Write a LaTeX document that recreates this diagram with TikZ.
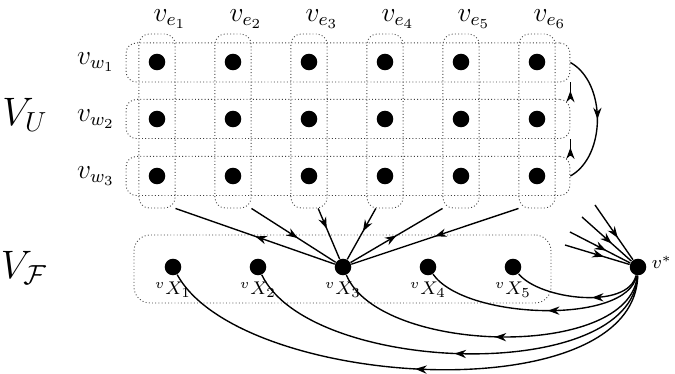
\documentclass[tikz,border=0pt]{standalone}
\usepackage{amsmath, amssymb}
\usetikzlibrary{positioning,arrows.meta,decorations.markings}

\begin{document}
\begin{tikzpicture}[x=0.435pt, y=-0.435pt,
    dot/.style={circle, fill=black, inner sep=0pt, minimum size=7.2pt},
    colbox/.style={draw=black!75, densely dotted, rounded corners=4.5pt, inner sep=0pt, minimum width=15.7pt, minimum height=75.7pt},
    rowbox/.style={draw=black!75, densely dotted, rounded corners=4.5pt, inner sep=0pt, minimum width=193.1pt, minimum height=17pt},
    fambox/.style={draw=black!75, densely dotted, rounded corners=7pt, inner sep=0pt, minimum width=181.4pt, minimum height=29.6pt},
    toplbl/.style={font=\large, inner sep=1pt},
    xlbl/.style={font=\footnotesize, inner sep=1pt},
    midarrow/.style={postaction={decorate}, decoration={markings, mark=at position #1 with {\arrow{Stealth[length=5pt,width=3.6pt]}}}},
    midarrow/.default=0.5,
    arc/.style={semithick, midarrow=#1},
    arc/.default=0.5]
        \useasboundingbox (0,0) rectangle (675,374);
        % the columns and rows of V_U
        \node[colbox] (e1) at (157,121) {};
        \node[colbox] (e2) at (233,121) {};
        \node[colbox] (e3) at (309,121) {};
        \node[colbox] (e4) at (385,121) {};
        \node[colbox] (e5) at (461,121) {};
        \node[colbox] (e6) at (537,121) {};
        \node[rowbox] (w1) at (348,62.5) {};
        \node[rowbox] (w2) at (348,119) {};
        \node[rowbox] (w3) at (348,176) {};
        \node[toplbl] (le1) at (170,19) {$v_{e_1}$};
        \node[toplbl] (le2) at (246,19) {$v_{e_2}$};
        \node[toplbl] (le3) at (322,19) {$v_{e_3}$};
        \node[toplbl] (le4) at (398,19) {$v_{e_4}$};
        \node[toplbl] (le5) at (474,19) {$v_{e_5}$};
        \node[toplbl] (le6) at (550,19) {$v_{e_6}$};
        \node[toplbl] (lw1) at (96,62) {$v_{w_1}$};
        \node[toplbl] (lw2) at (96,119) {$v_{w_2}$};
        \node[toplbl] (lw3) at (96,176) {$v_{w_3}$};
        \node (vu) at (25,115) {\LARGE $V_U$};
        \node (vf) at (24,268) {\LARGE $V_{\mathcal{F}}$};
        \node[dot] (u11) at (157,62) {};
        \node[dot] (u12) at (233,62) {};
        \node[dot] (u13) at (309,62) {};
        \node[dot] (u14) at (385,62) {};
        \node[dot] (u15) at (461,62) {};
        \node[dot] (u16) at (537,62) {};
        \node[dot] (u21) at (157,119) {};
        \node[dot] (u22) at (233,119) {};
        \node[dot] (u23) at (309,119) {};
        \node[dot] (u24) at (385,119) {};
        \node[dot] (u25) at (461,119) {};
        \node[dot] (u26) at (537,119) {};
        \node[dot] (u31) at (157,176) {};
        \node[dot] (u32) at (233,176) {};
        \node[dot] (u33) at (309,176) {};
        \node[dot] (u34) at (385,176) {};
        \node[dot] (u35) at (461,176) {};
        \node[dot] (u36) at (537,176) {};
        \draw[arc] (w1.east) .. controls +(36,20) and +(36,-20) .. (w3.east);
        \draw[arc] (w3.north east) -- (w2.south east);
        \draw[arc] (w2.north east) -- (w1.south east);
        % the family nodes
        \node[fambox] (fam) at (342.5,269) {};
        \node[dot] (x1) at (173,267) {};
        \node[dot] (x2) at (258,267) {};
        \node[dot] (x3) at (343,267) {};
        \node[dot] (x4) at (428,267) {};
        \node[dot] (x5) at (513,267) {};
        \node[dot] (vs) at (638,267) {};
        \node[xlbl, below=1.5pt of x1] (lx1) {${}^{v}X_{1}$};
        \node[xlbl, below=1.5pt of x2] (lx2) {${}^{v}X_{2}$};
        \node[xlbl, below=1.5pt of x3] (lx3) {${}^{v}X_{3}$};
        \node[xlbl, below=1.5pt of x4] (lx4) {${}^{v}X_{4}$};
        \node[xlbl, below=1.5pt of x5] (lx5) {${}^{v}X_{5}$};
        \node[xlbl, right=1pt of vs, yshift=2pt] (lvs) {$v^{*}$};
        \draw[arc] (x3) -- (e1.south east);
        \draw[arc=0.55] (e2.south east) -- (x3);
        \draw[arc=0.4] (e3.-84) -- (x3);
        \draw[arc=0.45] (e4.-96) -- (x3);
        \draw[arc] (x3) -- (e5.south west);
        \draw[arc] (e6.south west) -- (x3);
        % edges into and out of v*
        \coordinate (i1) at (595,205);
        \coordinate (i2) at (582,217);
        \coordinate (i3) at (570,232);
        \coordinate (i4) at (565,245);
        \draw[arc=0.6] (i1) -- (vs);
        \draw[arc=0.6] (i2) -- (vs);
        \draw[arc=0.6] (i3) -- (vs);
        \draw[arc=0.6] (i4) -- (vs);
        \draw[arc=0.4] (vs) .. controls +(-10,43) and +(27,33) .. (x5);
        \draw[arc=0.45] (vs) .. controls +(-10,58) and +(37,53) .. (x4);
        \draw[arc] (vs) .. controls +(-8,93) and +(37,88) .. (x3);
        \draw[arc] (vs) .. controls +(-6,118) and +(52,108) .. (x2);
        \draw[arc] (vs) .. controls +(-4,146) and +(67,122) .. (x1);
\end{tikzpicture}
\end{document}
